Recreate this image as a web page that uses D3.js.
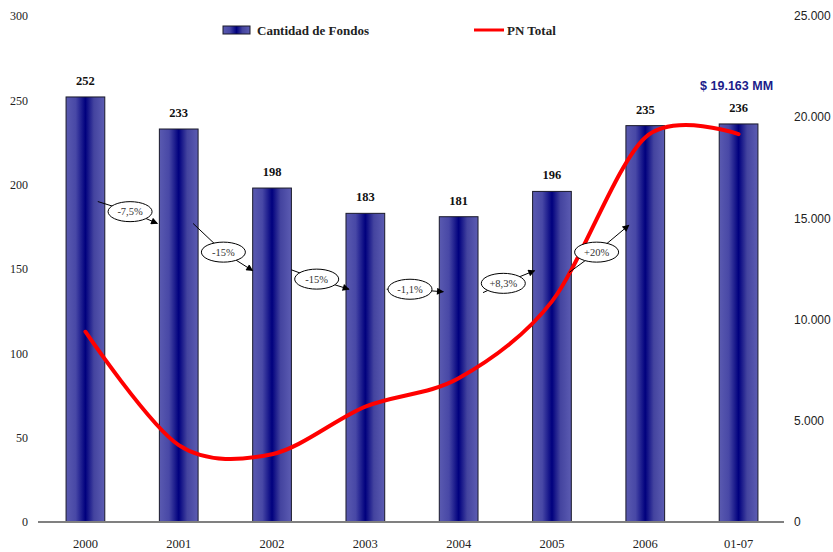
<!DOCTYPE html>
<html>
<head>
<meta charset="utf-8">
<script src="https://cdn.jsdelivr.net/npm/d3@7"></script>
<style>
  html, body { margin: 0; padding: 0; background: #fff; }
  svg { display: block; }
</style>
</head>
<body>
<svg id="chart" width="833" height="552"></svg>
<script>
// Años / períodos
const categories = ["2000", "2001", "2002", "2003", "2004", "2005", "2006", "01-07"];
// Cantidad de fondos (eje izquierdo)
const fundCount = [252, 233, 198, 183, 181, 196, 235, 236];
// Patrimonio neto total, millones de $ (eje derecho)
const pnTotal = [9400, 3800, 3350, 5700, 7100, 10900, 19000, 19163];
// Variaciones interanuales de la cantidad de fondos
const changeLabels = ["-7,5%", "-15%", "-15%", "-1,1%", "+8,3%", "+20%"];
const leftTicks = [0, 50, 100, 150, 200, 250, 300];
const rightTicks = [0, 5000, 10000, 15000, 20000, 25000];
const pnLabel = "$ 19.163 MM";

const svg = d3.select("#chart");
const plot = { left: 39, right: 785, top: 16, bottom: 522 };

const serif = "'Liberation Serif', 'Times New Roman', serif";
const sans = "'Liberation Sans', Arial, sans-serif";

const x = d3.scaleBand().domain(categories).range([plot.left, plot.right]).paddingInner(0.585).paddingOuter(0.29);
const yL = d3.scaleLinear().domain([0, 300]).range([plot.bottom, plot.top]);
const yR = d3.scaleLinear().domain([0, 25000]).range([plot.bottom, plot.top]);

const es = d3.formatLocale({ decimal: ",", thousands: ".", grouping: [3], currency: ["$", ""] });
const fmtR = es.format(",.0f");

// gradients / markers
const defs = svg.append("defs");
const grad = defs.append("linearGradient").attr("id", "barGrad")
  .attr("x1", "0%").attr("x2", "100%").attr("y1", "0%").attr("y2", "0%");
[[0, "#5a5ab0"], [0.25, "#4848a6"], [0.5, "#00007e"], [0.72, "#44449f"], [1, "#5c5cb2"]]
  .forEach(([o, c]) => grad.append("stop").attr("offset", o).attr("stop-color", c));

defs.append("marker").attr("id", "arrow")
  .attr("viewBox", "0 0 10 10").attr("refX", 9).attr("refY", 5)
  .attr("markerWidth", 9).attr("markerHeight", 7).attr("markerUnits", "userSpaceOnUse")
  .attr("orient", "auto")
  .append("path").attr("d", "M0,0 L10,5 L0,10 z").attr("fill", "#000");

// left axis labels
svg.append("g").selectAll("text").data(leftTicks).join("text")
  .attr("x", 28).attr("y", d => yL(d)).attr("dy", "0.35em")
  .attr("text-anchor", "end").attr("font-family", serif).attr("font-size", 12).attr("fill", "#222")
  .text(d => d);

// right axis labels
svg.append("g").selectAll("text").data(rightTicks).join("text")
  .attr("x", 794).attr("y", d => yR(d)).attr("dy", "0.35em")
  .attr("text-anchor", "start").attr("font-family", sans).attr("font-size", 12).attr("fill", "#222")
  .text(d => fmtR(d));

// bars
svg.append("g").selectAll("rect").data(fundCount).join("rect")
  .attr("x", (d, i) => x(categories[i]))
  .attr("y", d => yL(d))
  .attr("width", x.bandwidth())
  .attr("height", d => yL(0) - yL(d))
  .attr("fill", "url(#barGrad)")
  .attr("stroke", "#1a1a2a").attr("stroke-width", 1);

// baseline
svg.append("line").attr("x1", 38).attr("x2", 784)
  .attr("y1", yL(0)).attr("y2", yL(0))
  .attr("stroke", "#808080").attr("stroke-width", 2);

// bar value labels
svg.append("g").selectAll("text").data(fundCount).join("text")
  .attr("x", (d, i) => x(categories[i]) + x.bandwidth() / 2)
  .attr("y", d => yL(d) - 12)
  .attr("text-anchor", "middle").attr("font-family", serif).attr("font-weight", "bold")
  .attr("font-size", 12.5).attr("fill", "#111")
  .text(d => d);

// category labels
svg.append("g").selectAll("text").data(categories).join("text")
  .attr("x", d => x(d) + x.bandwidth() / 2)
  .attr("y", 548)
  .attr("text-anchor", "middle").attr("font-family", serif).attr("font-size", 12.5).attr("fill", "#222")
  .text(d => d);

// PN Total line
const line = d3.line()
  .x((d, i) => x(categories[i]) + x.bandwidth() / 2)
  .y(d => yR(d))
  .curve(d3.curveCardinal.tension(0.08));
svg.append("path").datum(pnTotal)
  .attr("d", line).attr("fill", "none")
  .attr("stroke", "#ff0000").attr("stroke-width", 4)
  .attr("stroke-linecap", "round").attr("stroke-linejoin", "round");

// PN label above last point
const lastI = pnTotal.length - 1;
svg.append("text")
  .attr("x", x(categories[lastI]) + x.bandwidth() / 2 - 2)
  .attr("y", yR(pnTotal[lastI]) - 44)
  .attr("text-anchor", "middle").attr("font-family", sans).attr("font-weight", "bold")
  .attr("font-size", 12.5).attr("fill", "#1c1c8a")
  .text(pnLabel);

// change annotations: tail near bar i, oval, arrow to bar i+1 (y in left-axis units)
const annoPlace = [
  { tailDx: -7, tailY: 190, ovalY: 184, tipDx: -2, tipY: 177 },
  { tailDx: -5, tailY: 177, ovalY: 160, tipDx: 0, tipY: 149 },
  { tailDx: 0, tailY: 149.5, ovalY: 144, tipDx: 3, tipY: 138 },
  { tailDx: 2, tailY: 138, ovalY: 138, tipDx: 4, tipY: 136.5 },
  { tailDx: 5, tailY: 136, ovalY: 141.5, tipDx: 2, tipY: 149 },
  { tailDx: -2, tailY: 148, ovalY: 160, tipDx: 3, tipY: 176 }
];
const ag = svg.append("g");
changeLabels.forEach((lab, i) => {
  const p = annoPlace[i];
  const c0 = x(categories[i]) + x.bandwidth() / 2;
  const c1 = x(categories[i + 1]) + x.bandwidth() / 2;
  const tx = x(categories[i]) + x.bandwidth() + p.tailDx;
  const hx = x(categories[i + 1]) + p.tipDx;
  const ox = (c0 + c1) / 2 - 2;
  const g = ag.append("g");
  g.append("line").attr("x1", tx).attr("y1", yL(p.tailY)).attr("x2", ox).attr("y2", yL(p.ovalY))
    .attr("stroke", "#000").attr("stroke-width", 1);
  g.append("line").attr("x1", ox).attr("y1", yL(p.ovalY)).attr("x2", hx).attr("y2", yL(p.tipY))
    .attr("stroke", "#000").attr("stroke-width", 1).attr("marker-end", "url(#arrow)");
  g.append("ellipse").attr("cx", ox).attr("cy", yL(p.ovalY)).attr("rx", 22).attr("ry", 10)
    .attr("fill", "#fff").attr("stroke", "#000").attr("stroke-width", 1);
  g.append("text").attr("x", ox).attr("y", yL(p.ovalY)).attr("dy", "0.35em")
    .attr("text-anchor", "middle").attr("font-family", serif).attr("font-size", 10.5).attr("fill", "#333")
    .text(lab);
});

// legend
const lg = svg.append("g");
lg.append("rect").attr("x", 223).attr("y", 26).attr("width", 27).attr("height", 8)
  .attr("fill", "url(#barGrad)").attr("stroke", "#1a1a2a").attr("stroke-width", 1);
lg.append("text").attr("x", 257).attr("y", 35).attr("font-family", serif).attr("font-weight", "bold")
  .attr("font-size", 13).attr("fill", "#222").text("Cantidad de Fondos");
lg.append("line").attr("x1", 474).attr("x2", 504).attr("y1", 30).attr("y2", 30)
  .attr("stroke", "#ff0000").attr("stroke-width", 3);
lg.append("text").attr("x", 507).attr("y", 35).attr("font-family", serif).attr("font-weight", "bold")
  .attr("font-size", 13).attr("fill", "#222").text("PN Total");
</script>
</body>
</html>
